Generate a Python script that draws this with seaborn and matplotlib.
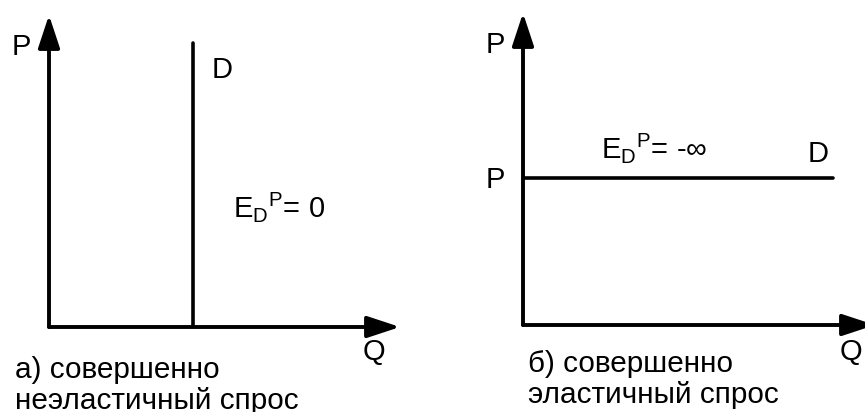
import numpy as np
import seaborn as sns
import matplotlib.pyplot as plt

# demand curves (Q, P) in axis units 0..10
inelastic_q = [4.1, 4.1]
inelastic_p = [0.0, 9.1]
elastic_q = [0.0, 8.8]
elastic_p = [4.7, 4.7]

caption_a = ['а) совершенно', 'неэластичный спрос']
caption_b = ['б) совершенно', 'эластичный спрос']
elast_a = r'$\mathregular{E_D{}^P}$= 0'
elast_b = r'$\mathregular{E_D{}^P}$= -∞'

sns.set_theme(style='white')
plt.rcParams['font.family'] = ['Liberation Sans', 'DejaVu Sans']
plt.rcParams['mathtext.fontset'] = 'custom'
plt.rcParams['mathtext.rm'] = 'Liberation Sans'

FS = 21

fig = plt.figure(figsize=(8.65, 4.12), dpi=100)
ax1 = fig.add_axes([49 / 865, 85 / 412, 351 / 865, 312 / 412])
ax2 = fig.add_axes([523 / 865, 87 / 412, 352 / 865, 312 / 412])


def draw_axes(ax):
    ax.set_xlim(0, 10)
    ax.set_ylim(0, 10)
    ax.set_axis_off()
    style = '-|>,head_length=1.0,head_width=0.33'
    for tip in [(10, 0), (0, 10)]:
        ax.annotate('', xy=tip, xytext=(0, 0), annotation_clip=False,
                    arrowprops=dict(arrowstyle=style, mutation_scale=20, lw=2.8,
                                    color='black', shrinkA=0, shrinkB=0))


draw_axes(ax1)
draw_axes(ax2)

sns.lineplot(x=inelastic_q, y=inelastic_p, sort=False, estimator=None,
             color='black', lw=2.6, ax=ax1)
sns.lineplot(x=elastic_q, y=elastic_p, sort=False, estimator=None,
             color='black', lw=2.6, ax=ax2)

kw = dict(fontsize=FS, color='black', clip_on=False, va='baseline')
cap = dict(kw, fontsize=21.4)

# left panel
ax1.text(-0.78, 8.72, 'P', ha='center', **kw)
ax1.text(4.64, 7.98, 'D', ha='left', **kw)
ax1.text(5.24, 3.53, elast_a, ha='left', **kw)
ax1.text(9.26, -1.06, 'Q', ha='center', **kw)
ax1.text(-0.97, -1.63, caption_a[0], ha='left', **cap)
ax1.text(-0.97, -2.62, caption_a[1], ha='left', **cap)

# right panel
ax2.text(-0.79, 8.72, 'P', ha='center', **kw)
ax2.text(-0.79, 4.39, 'P', ha='center', **kw)
ax2.text(8.08, 5.22, 'D', ha='left', **kw)
ax2.text(2.21, 5.35, elast_b, ha='left', **kw)
ax2.text(9.31, -1.12, 'Q', ha='center', **kw)
ax2.text(0.14, -1.51, caption_b[0], ha='left', **cap)
ax2.text(0.14, -2.50, caption_b[1], ha='left', **cap)

fig.savefig('out.png', dpi=100)
